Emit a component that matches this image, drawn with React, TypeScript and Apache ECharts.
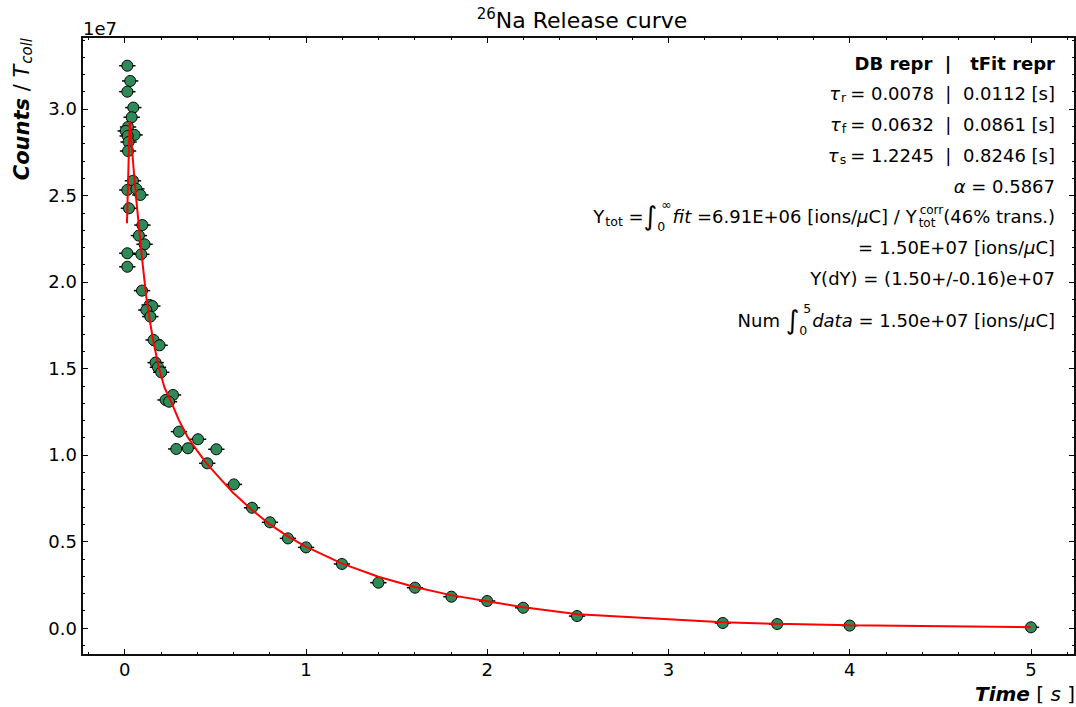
import React, { useEffect, useRef } from "react";
import * as echarts from "echarts";

const FONT = "DejaVu Sans";

// measured data points (time in s, counts / T_coll in units of 1e7)
const pointTime = [0.015, 0.031, 0.015, 0.048, 0.039, 0.019, 0.006, 0.055, 0.017, 0.022, 0.019, 0.046, 0.015, 0.065, 0.087, 0.024, 0.098, 0.079, 0.110, 0.015, 0.092, 0.015, 0.096, 0.138, 0.153, 0.120, 0.142, 0.160, 0.193, 0.171, 0.184, 0.202, 0.267, 0.226, 0.245, 0.300, 0.405, 0.285, 0.349, 0.506, 0.456, 0.603, 0.703, 0.802, 0.901, 1.001, 1.199, 1.400, 1.602, 1.803, 2.000, 2.199, 2.496, 3.3, 3.6, 4.0, 5.0];
const pointCounts = [3.250, 3.162, 3.100, 3.008, 2.952, 2.896, 2.873, 2.850, 2.844, 2.809, 2.757, 2.585, 2.532, 2.538, 2.503, 2.426, 2.329, 2.268, 2.218, 2.166, 2.160, 2.088, 1.950, 1.867, 1.861, 1.838, 1.800, 1.665, 1.634, 1.534, 1.507, 1.478, 1.347, 1.318, 1.308, 1.135, 1.091, 1.035, 1.039, 1.033, 0.952, 0.830, 0.695, 0.611, 0.518, 0.466, 0.370, 0.262, 0.233, 0.181, 0.156, 0.117, 0.069, 0.029, 0.023, 0.014, 0.004];
const timeErr = 0.045;

// fitted release curve
const fitTime = [0.013, 0.028, 0.04, 0.05, 0.065, 0.08, 0.1, 0.12, 0.14, 0.16, 0.19, 0.22, 0.26, 0.3, 0.35, 0.4, 0.45, 0.5, 0.6, 0.7, 0.8, 0.9, 1.0, 1.2, 1.4, 1.6, 1.8, 2.0, 2.2, 2.5, 3.3, 3.6, 4.0, 5.0];
const fitCounts = [2.34, 2.93, 2.78, 2.65, 2.47, 2.31, 2.10, 1.91, 1.77, 1.65, 1.50, 1.39, 1.30, 1.20, 1.10, 1.025, 0.955, 0.895, 0.78, 0.685, 0.60, 0.53, 0.47, 0.372, 0.296, 0.237, 0.19, 0.155, 0.12, 0.08, 0.033, 0.024, 0.016, 0.005];

// axes
const X_MIN = -0.235;
const X_MAX = 5.243;
const Y_MIN = -0.156;
const Y_MAX = 3.416;
const xMajorTicks = [0, 1, 2, 3, 4, 5];
const xMinorTicks = [-0.2, 0.2, 0.4, 0.6, 0.8, 1.2, 1.4, 1.6, 1.8, 2.2, 2.4, 2.6, 2.8, 3.2, 3.4, 3.6, 3.8, 4.2, 4.4, 4.6, 4.8, 5.2];
const yMajorTicks = [0, 0.5, 1.0, 1.5, 2.0, 2.5, 3.0];
const yMinorTicks = [-0.1, 0.1, 0.2, 0.3, 0.4, 0.6, 0.7, 0.8, 0.9, 1.1, 1.2, 1.3, 1.4, 1.6, 1.7, 1.8, 1.9, 2.1, 2.2, 2.3, 2.4, 2.6, 2.7, 2.8, 2.9, 3.1, 3.2, 3.3, 3.4];

function makeAxis(kind: "x" | "y", position: string, ticks: number[], len: number, labels: boolean): any {
  const isX = kind === "x";
  return {
    type: "value",
    position,
    min: isX ? X_MIN : Y_MIN,
    max: isX ? X_MAX : Y_MAX,
    axisLine: { show: true, onZero: false, lineStyle: { color: "#000", width: 1.5 } },
    axisTick: { show: true, inside: true, length: len, customValues: ticks, lineStyle: { color: "#000", width: 1 } },
    minorTick: { show: false },
    splitLine: { show: false },
    axisLabel: labels
      ? {
          show: true,
          customValues: ticks,
          color: "#000",
          fontFamily: FONT,
          fontSize: 18,
          margin: 5,
          formatter: isX ? (v: number) => String(Math.round(v)) : (v: number) => v.toFixed(1),
        }
      : { show: false },
  };
}

const base = { fontFamily: FONT, fill: "#000", align: "left" };
const rs = (o: any) => ({ ...base, ...o });

const lineRich: any = {
  n: rs({ fontSize: 18, lineHeight: 26 }),
  b: rs({ fontSize: 18, lineHeight: 26, fontWeight: "bold" }),
  i: rs({ fontSize: 18, lineHeight: 26, fontStyle: "italic" }),
  sub: rs({ fontSize: 12.5, lineHeight: 26, padding: [8, 4, 0, 1] }),
};
const intRich: any = {
  n: rs({ fontSize: 18, lineHeight: 34 }),
  i: rs({ fontSize: 18, lineHeight: 34, fontStyle: "italic" }),
  int: rs({ fontSize: 26, lineHeight: 34 }),
  lsub0: rs({ fontSize: 12.5, lineHeight: 34, width: 0, padding: [20, 0, 0, 0] }),
  lsup: rs({ fontSize: 12.5, lineHeight: 34, padding: [0, 1, 24, 4] }),
  sub: rs({ fontSize: 12.5, lineHeight: 34, padding: [10, 0, 0, 1] }),
  sub0: rs({ fontSize: 12, lineHeight: 34, width: 0, padding: [14, 0, 0, 2] }),
  sup: rs({ fontSize: 12, lineHeight: 34, padding: [0, 0, 12, 1] }),
};

const S = "\u00A0";
const annotations: [string, number, any][] = [
  [`{b|DB repr${S}${S}|${S}${S}${S}tFit repr}`, 63, lineRich],
  [`{i|τ}{sub|r}{n|= 0.0078${S}${S}|${S}${S}0.0112 [s]}`, 93, lineRich],
  [`{i|τ}{sub|f}{n|= 0.0632${S}${S}|${S}${S}0.0861 [s]}`, 124, lineRich],
  [`{i|τ}{sub|s}{n|= 1.2245${S}${S}|${S}${S}0.8246 [s]}`, 155, lineRich],
  [`{i|α}{n|${S}= 0.5867}`, 186, lineRich],
  [`{n|Y}{sub|tot}{n|${S}=}{int|∫}{lsub0|0}{lsup|∞}{i|fit}{n|${S}=6.91E+06 [ions/}{i|μ}{n|C] / Y}{sub0|tot}{sup|corr}{n|(46% trans.)}`, 216, intRich],
  [`{n|= 1.50E+07 [ions/}{i|μ}{n|C]}`, 247, lineRich],
  [`{n|Y(dY) = (1.50+/-0.16)e+07}`, 278, lineRich],
  [`{n|Num${S}}{int|∫}{lsub0|0}{lsup|5}{i|data}{n|${S}= 1.50e+07 [ions/}{i|μ}{n|C]}`, 320, intRich],
];

function buildOption(): any {
  const points = pointTime.map((t, i) => [t, pointCounts[i]]);
  const fit = fitTime.map((t, i) => [t, fitCounts[i]]);

  const graphic: any[] = [
    {
      type: "text",
      x: 582,
      y: 20,
      z: 100,
      style: {
        text: "{sup|26}{n|Na Release curve}",
        align: "center",
        verticalAlign: "middle",
        fontFamily: FONT,
        fill: "#000",
        rich: {
          sup: rs({ fontSize: 15, lineHeight: 28, padding: [0, 0, 12, 0] }),
          n: rs({ fontSize: 22, lineHeight: 28 }),
        },
      },
    },
    {
      type: "text",
      x: 83,
      y: 28,
      z: 100,
      style: { text: "1e7", fontFamily: FONT, fontSize: 18, fill: "#000", align: "left", verticalAlign: "middle" },
    },
    {
      type: "text",
      x: 22,
      y: 38,
      rotation: Math.PI / 2,
      z: 100,
      style: {
        text: `{b|Counts}{n|${S}/${S}}{i|T}{sub|coll}`,
        align: "right",
        verticalAlign: "middle",
        fontFamily: FONT,
        fill: "#000",
        rich: {
          b: rs({ fontSize: 21, lineHeight: 28, fontWeight: "bold", fontStyle: "italic" }),
          n: rs({ fontSize: 21, lineHeight: 28 }),
          i: rs({ fontSize: 21, lineHeight: 28, fontStyle: "italic" }),
          sub: rs({ fontSize: 15, lineHeight: 28, fontStyle: "italic", padding: [10, 0, 0, 1] }),
        },
      },
    },
    {
      type: "text",
      x: 1075,
      y: 694,
      z: 100,
      style: {
        text: `{b|Time}{n|${S}[${S}}{i|s}{n|${S}]}`,
        align: "right",
        verticalAlign: "middle",
        fontFamily: FONT,
        fill: "#000",
        rich: {
          b: rs({ fontSize: 20, lineHeight: 26, fontWeight: "bold", fontStyle: "italic" }),
          n: rs({ fontSize: 20, lineHeight: 26 }),
          i: rs({ fontSize: 20, lineHeight: 26, fontStyle: "italic" }),
        },
      },
    },
    ...annotations.map(([text, y, rich]) => ({
      type: "text",
      x: 1055,
      y,
      z: 100,
      style: { text, align: "right", verticalAlign: "middle", fontFamily: FONT, fill: "#000", rich },
    })),
  ];

  return {
    animation: false,
    backgroundColor: "#fff",
    grid: { left: 82, right: 1, top: 37, bottom: 52, containLabel: false, outerBoundsMode: "none" },
    xAxis: [
      makeAxis("x", "bottom", xMajorTicks, 6, true),
      makeAxis("x", "bottom", xMinorTicks, 3, false),
      makeAxis("x", "top", xMajorTicks, 6, false),
      makeAxis("x", "top", xMinorTicks, 3, false),
    ],
    yAxis: [
      makeAxis("y", "left", yMajorTicks, 6, true),
      makeAxis("y", "left", yMinorTicks, 3, false),
      makeAxis("y", "right", yMajorTicks, 6, false),
      makeAxis("y", "right", yMinorTicks, 3, false),
    ],
    series: [
      {
        type: "custom",
        xAxisIndex: 0,
        yAxisIndex: 0,
        z: 1,
        data: points,
        encode: { x: 0, y: 1 },
        renderItem: (_params: any, api: any) => {
          const t = api.value(0);
          const c = api.value(1);
          const p1 = api.coord([t - timeErr, c]);
          const p2 = api.coord([t + timeErr, c]);
          return {
            type: "line",
            shape: { x1: p1[0], y1: p1[1], x2: p2[0], y2: p2[1] },
            style: { stroke: "#000", lineWidth: 1.5 },
          };
        },
      },
      {
        type: "scatter",
        xAxisIndex: 0,
        yAxisIndex: 0,
        z: 2,
        data: points,
        symbol: "circle",
        symbolSize: 11,
        itemStyle: { color: "#2e8b57", borderColor: "#000", borderWidth: 1, opacity: 1 },
        emphasis: { disabled: true },
      },
      {
        type: "line",
        xAxisIndex: 0,
        yAxisIndex: 0,
        z: 3,
        data: fit,
        showSymbol: false,
        symbol: "none",
        smooth: false,
        lineStyle: { color: "#ff0000", width: 2 },
        emphasis: { disabled: true },
      },
    ],
    graphic,
  };
}

export default function App() {
  const ref = useRef<HTMLDivElement>(null);
  useEffect(() => {
    if (!ref.current) return;
    const chart = echarts.init(ref.current, null, { renderer: "svg" });
    chart.setOption(buildOption());
    return () => chart.dispose();
  }, []);
  return (
    <div
      ref={ref}
      style={{ position: "fixed", left: 0, top: 0, width: 1076, height: 707, background: "#fff" }}
    />
  );
}
